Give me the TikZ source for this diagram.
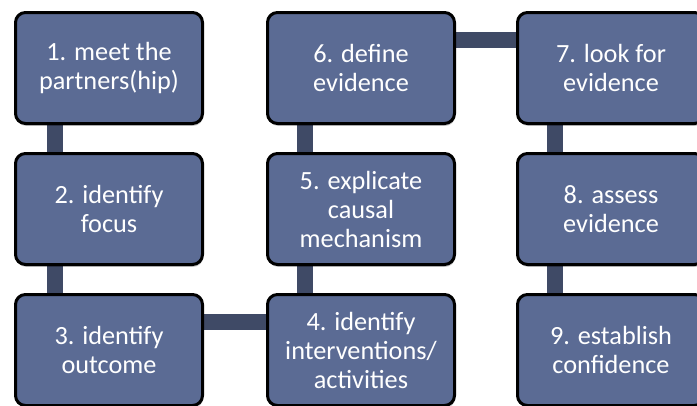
\documentclass[tikz,border=0pt]{standalone}
\usepackage{fontspec}
\setmainfont{Carlito}
\usetikzlibrary{backgrounds,shadows}
\definecolor{boxfill}{RGB}{91,107,148}
\definecolor{connc}{RGB}{63,74,102}
\begin{document}
\begin{tikzpicture}[x=0.75pt,y=-0.75pt,
  stepbox/.style={draw=black, line width=2.25pt, fill=boxfill, rounded corners=7.5pt,
    minimum width=140.25pt, minimum height=83.25pt, text=white, align=center,
    font=\fontsize{19.7}{21.75}\selectfont, inner sep=0pt,
    drop shadow={shadow xshift=0.6pt, shadow yshift=-1.8pt, fill=black, opacity=0.22}},
  conn/.style={draw=connc, line width=12pt}]
\useasboundingbox (0,0) rectangle (697,405);
\node[stepbox] (b1) at (109,68) {1. meet the\\partners(hip)};
\node[stepbox] (b2) at (109,209) {2. identify\\focus};
\node[stepbox] (b3) at (109,350) {3. identify\\outcome};
\node[stepbox] (b4) at (361,350) {4. identify\\interventions/\\activities};
\node[stepbox] (b5) at (361,209) {5. explicate\\causal\\mechanism};
\node[stepbox] (b6) at (361,68) {6. define\\evidence};
\node[stepbox] (b7) at (611,68) {7. look for\\evidence};
\node[stepbox] (b8) at (611,209) {8. assess\\evidence};
\node[stepbox] (b9) at (611,350) {9. establish\\confidence};
\begin{scope}[on background layer]
  \draw[conn] ([xshift=-40.5pt]b1.south) -- ([xshift=-40.5pt]b2.north);
  \draw[conn] ([xshift=-40.5pt]b2.south) -- ([xshift=-40.5pt]b3.north);
  \draw[conn] ([yshift=21pt]b3.east) -- ([yshift=21pt]b4.west);
  \draw[conn] ([xshift=-42pt]b4.north) -- ([xshift=-42pt]b5.south);
  \draw[conn] ([xshift=-42pt]b5.north) -- ([xshift=-42pt]b6.south);
  \draw[conn] ([yshift=21pt]b6.east) -- ([yshift=21pt]b7.west);
  \draw[conn] ([xshift=-42pt]b7.south) -- ([xshift=-42pt]b8.north);
  \draw[conn] ([xshift=-42pt]b8.south) -- ([xshift=-42pt]b9.north);
\end{scope}
\end{tikzpicture}
\end{document}
